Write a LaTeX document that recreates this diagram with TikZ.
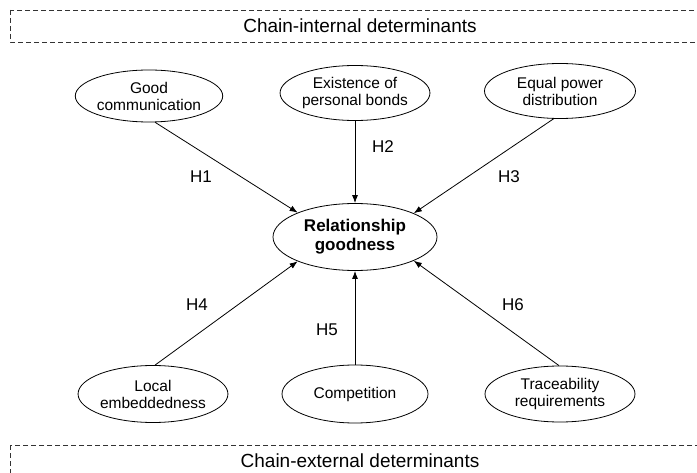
\documentclass[tikz,border=0pt]{standalone}
\usepackage{fontspec}
\setmainfont{Liberation Sans}
\usetikzlibrary{shapes.geometric,arrows.meta}
\begin{document}
\begin{tikzpicture}[x=1pt,y=-1pt,
  oval/.style={ellipse,draw,line width=0.8pt,inner sep=0pt,align=center,
    font=\fontsize{15.5}{17}\selectfont},
  dashbox/.style={draw=black!80,line width=0.8pt,dash pattern=on 5pt off 3pt},
  hyp/.style={font=\fontsize{17}{19}\selectfont},
  arr/.style={line width=0.8pt,-{Latex[length=8pt,width=6pt]}},
  head/.style={font=\fontsize{19}{21}\selectfont}]
\useasboundingbox (0,0) rectangle (697,473);
\clip (0,0) rectangle (697,473);
\fill[white] (0,0) rectangle (697,473);
% boxes
\draw[dashbox] (10,10) rectangle (720,42);
\node[head] (top) at (360,26) {Chain-internal determinants};
\draw[dashbox] (10,445) rectangle (720,500);
\node[head] (bot) at (360,461) {Chain-external determinants};
% ellipses
\node[oval,minimum width=138pt,minimum height=52pt] (gc) at (149,96) {Good\\communication};
\node[oval,minimum width=147pt,minimum height=55pt] (eb) at (355,93) {Existence of\\personal bonds};
\node[oval,minimum width=151pt,minimum height=55pt] (ep) at (560,91) {Equal power\\distribution};
\node[oval,minimum width=164pt,minimum height=67pt,font=\fontsize{17}{19}\selectfont\bfseries] (rg) at (355,237) {Relationship\\goodness};
\node[oval,minimum width=148pt,minimum height=57pt] (le) at (153,394) {Local\\embeddedness};
\node[oval,minimum width=146pt,minimum height=58pt] (co) at (355,394) {Competition};
\node[oval,minimum width=150pt,minimum height=56pt] (tr) at (560,394) {Traceability\\requirements};
% arrows
\draw[arr] (gc.-77) -- (rg.157.5);
\draw[arr] (eb.south) -- (rg.north);
\draw[arr] (ep.-103) -- (rg.22.5);
\draw[arr] (le.86) -- (rg.-157.4);
\draw[arr] (co.north) -- (rg.south);
\draw[arr] (tr.92) -- (rg.-22.6);
% labels
\node[hyp] (h1) at (201,177) {H1};
\node[hyp] (h2) at (383,147) {H2};
\node[hyp] (h3) at (509,177) {H3};
\node[hyp] (h4) at (197,305) {H4};
\node[hyp] (h5) at (327,330) {H5};
\node[hyp] (h6) at (513,305) {H6};
\end{tikzpicture}
\end{document}
